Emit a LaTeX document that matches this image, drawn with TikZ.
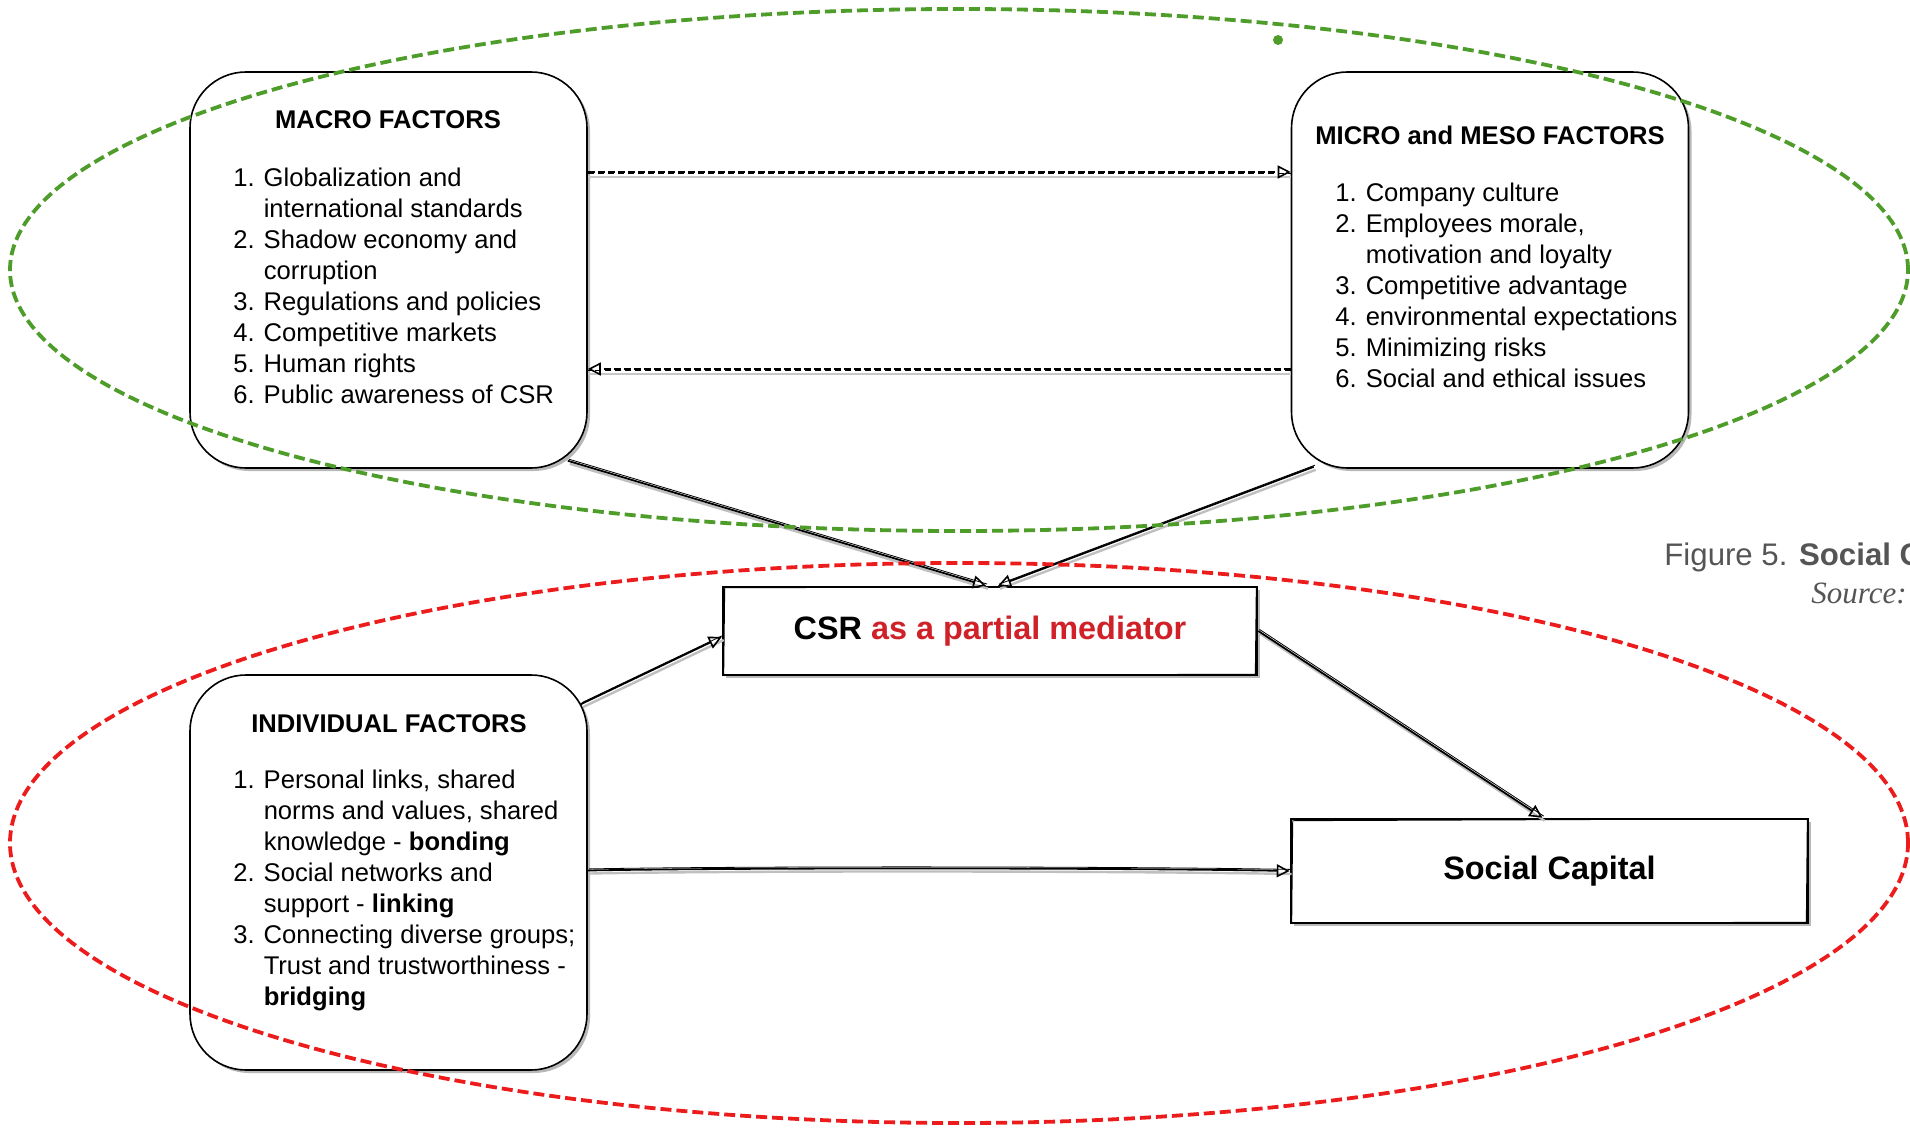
\documentclass[tikz,border=0pt]{standalone}
\usepackage{fontspec}
\setmainfont{Liberation Sans}
\newfontfamily\captionserif{Liberation Serif}
\usetikzlibrary{arrows.meta,shadows}

\definecolor{zonegreen}{RGB}{78,156,42}
\definecolor{zonered}{RGB}{236,28,28}
\definecolor{medred}{RGB}{208,32,40}
\definecolor{capgray}{RGB}{85,85,85}

\newcommand{\listfont}{\fontsize{12.8}{15.5}\selectfont}

\tikzset{
  boxshadow/.style={drop shadow={shadow xshift=1.5pt, shadow yshift=-1.5pt, fill=black!35, opacity=0.8}},
  factorbox/.style={draw, line width=0.8pt, rounded corners=28pt, fill=white,
    minimum width=198.5pt, minimum height=198pt, inner sep=0pt, boxshadow},
  keybox/.style={draw, line width=1.3pt, fill=white, inner sep=0pt, boxshadow,
    font=\fontsize{16.2}{19}\selectfont\bfseries},
  heading/.style={font=\listfont\bfseries, inner sep=0pt, anchor=base},
  itemlist/.style={font=\listfont, inner sep=0pt, anchor=base west},
  zone/.style={dash pattern=on 5.5pt off 2.5pt, line width=1.9pt},
  opentip/.style={-{Triangle[open,length=6.5pt,width=6.5pt,line width=0.8pt]}},
  link/.style={line width=0.9pt, opentip,
    preaction={draw=black!25, line width=1.2pt, -, transform canvas={xshift=1pt,yshift=-1.5pt}},
    postaction={draw, line width=0.4pt, -, transform canvas={xshift=0.6pt,yshift=0.8pt}}},
  flow/.style={line width=1pt, dash pattern=on 3.5pt off 1.5pt, opentip,
    preaction={draw=black!22, line width=0.9pt, -, transform canvas={yshift=-2.5pt}},
    postaction={draw, line width=0.5pt, -, dash pattern=on 3pt off 2pt, transform canvas={yshift=-0.9pt}}},
  sketch/.style={line width=0.45pt},
}

\begin{document}
\begin{tikzpicture}[x=0.5pt, y=-0.5pt]
\useasboundingbox (0,0) rectangle (1910,1128);
\clip (0,0) rectangle (1910,1128);

% factor boxes
\node[factorbox] (macro) at (388.5,270) {};
\node[factorbox] (micro) at (1490,270) {};
\node[factorbox, minimum height=197.5pt] (indiv) at (388.5,872.5) {};

% headings and lists
\node[heading] (macroHead) at (388,129) {MACRO FACTORS};
\node[itemlist] (macroList) at (233,187) {%
\begin{tabular}[t]{@{}r@{\hspace{4.5pt}}l@{}}
1. & Globalization and\\
   & international standards\\
2. & Shadow economy and\\
   & corruption\\
3. & Regulations and policies\\
4. & Competitive markets\\
5. & Human rights\\
6. & Public awareness of CSR
\end{tabular}};

\node[heading] (microHead) at (1490,145) {MICRO and MESO FACTORS};
\node[itemlist] (microList) at (1335,202) {%
\begin{tabular}[t]{@{}r@{\hspace{4.5pt}}l@{}}
1. & Company culture\\
2. & Employees morale,\\
   & motivation and loyalty\\
3. & Competitive advantage\\
4. & environmental expectations\\
5. & Minimizing risks\\
6. & Social and ethical issues
\end{tabular}};

\node[heading] (indivHead) at (389,732) {INDIVIDUAL FACTORS};
\node[itemlist] (indivList) at (233,788) {%
\begin{tabular}[t]{@{}r@{\hspace{4.5pt}}l@{}}
1. & Personal links, shared\\
   & norms and values, shared\\
   & knowledge - \textbf{bonding}\\
2. & Social networks and\\
   & support - \textbf{linking}\\
3. & Connecting diverse groups;\\
   & Trust and trustworthiness -\\
   & \textbf{bridging}
\end{tabular}};

% key boxes
\node[keybox, minimum width=267pt, minimum height=44pt] (csr) at (990,631)
  {CSR \textcolor{medred}{as a partial mediator}};
\node[keybox, minimum width=258.5pt, minimum height=52pt] (sc) at (1549.5,871)
  {Social Capital};

% hand-drawn second outline of the key boxes
\draw[sketch] ([shift={(1.5pt,-1pt)}]csr.north west) -- ([shift={(-1pt,-0.5pt)}]csr.north east)
  -- ([shift={(-1.5pt,1pt)}]csr.south east) -- ([shift={(1pt,0.5pt)}]csr.south west) -- cycle;
\draw[sketch] ([shift={(1.5pt,-1.5pt)}]sc.north west) -- ([shift={(-1pt,-0.5pt)}]sc.north east)
  -- ([shift={(-1.5pt,1pt)}]sc.south east) -- ([shift={(1pt,0.5pt)}]sc.south west) -- cycle;

% connectors between the factor groups
\draw[flow] ([yshift=49pt]macro.east) -- ([yshift=49pt]micro.west);
\draw[flow] ([yshift=-49.5pt]micro.west) -- ([yshift=-49.5pt]macro.east);

\draw[link] ([shift={(-10pt,4pt)}]macro.south east) -- ([xshift=-2pt]csr.north);
\draw[link] ([shift={(11.5pt,1pt)}]micro.south west) -- ([xshift=4pt]csr.north);
\draw[link] ([shift={(-3.5pt,-15pt)}]indiv.north east) -- ([yshift=-3pt]csr.west);
\draw[link] ([yshift=1pt]indiv.east) .. controls ([shift={(80pt,2.5pt)}]indiv.east) and ([shift={(-80pt,1.5pt)}]sc.west) .. ([yshift=0pt]sc.west);
\draw[link] (csr.east) -- ([xshift=-3.5pt]sc.north);

% grouping zones
\draw[zone, zonegreen] (959,270) ellipse [x radius=474.5pt, y radius=130.5pt];
\draw[zone, zonered] (959,843) ellipse [x radius=474.5pt, y radius=140pt];
\node[circle, fill=zonegreen, inner sep=0pt, minimum size=5pt] (dot) at (1278,40) {};

% caption
\node[anchor=base west, inner sep=0pt, text=capgray, font=\fontsize{15.6}{18}\selectfont] (figcap)
  at (1664,565) {Figure 5. \textbf{Social C}};
\node[anchor=base west, inner sep=0pt, text=capgray, font=\captionserif\itshape\fontsize{15.5}{18}\selectfont] (srccap)
  at (1811,603) {Source:};
\end{tikzpicture}
\end{document}
